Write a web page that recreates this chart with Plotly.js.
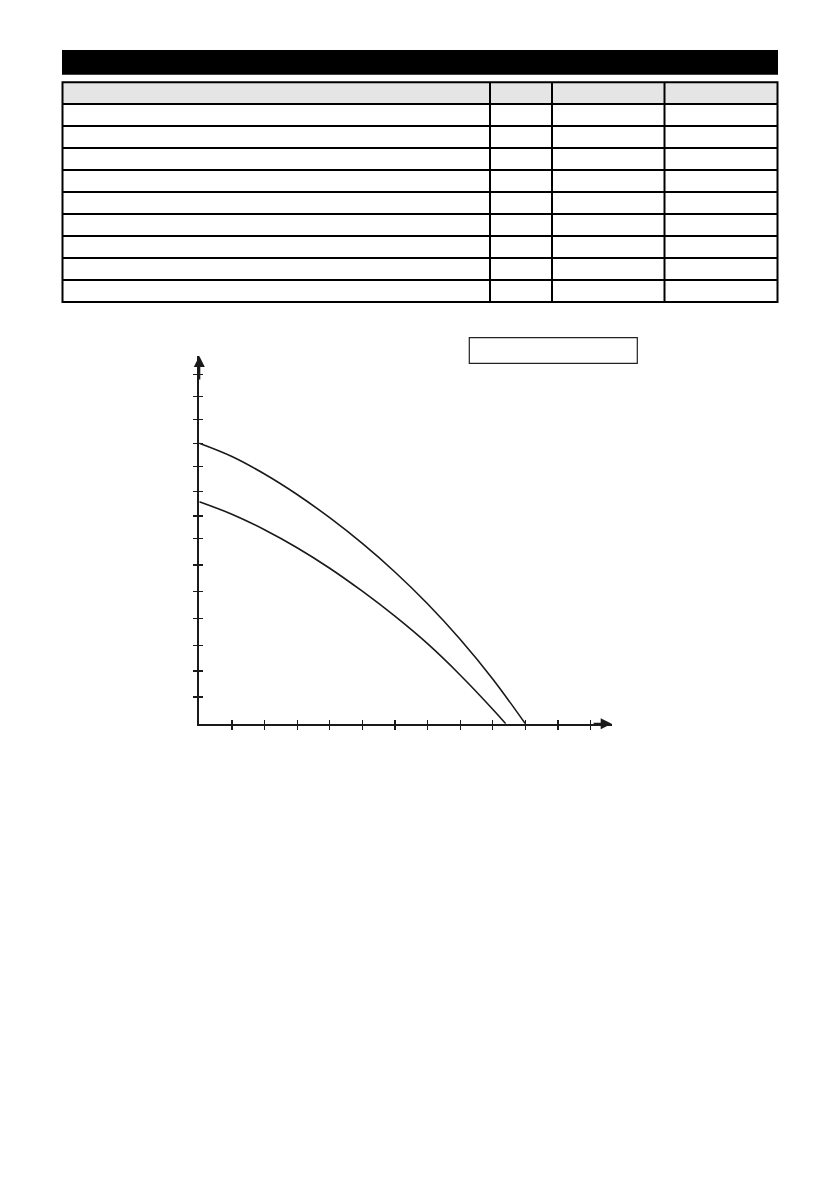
<!DOCTYPE html>
<html>
<head>
<meta charset="utf-8">
<script src="https://cdn.plot.ly/plotly-3.0.1.min.js"></script>
<style>
  html, body { margin: 0; padding: 0; background: #ffffff; }
  #plot { width: 840px; height: 1190px; }
</style>
</head>
<body>
<div id="plot"></div>
<script>
// Pump curves (x in tick steps, y in axis units)
//
const upperX = [0, 1, 2, 3, 4, 5, 6, 7, 8, 9, 10];
const upperY = [11.22, 10.69, 9.99, 9.17, 8.24, 7.21, 6.07, 4.80, 3.38, 1.79, 0];
const lowerX = [0, 1, 2, 3, 4, 5, 6, 7, 8, 9, 9.4];
const lowerY = [8.88, 8.38, 7.76, 7.04, 6.22, 5.30, 4.30, 3.20, 1.95, 0.58, 0];

// Axis ticks (the drawing's y ticks are not evenly spaced)
//
const xTickVals = [1, 2, 3, 4, 5, 6, 7, 8, 9, 10, 11, 12];
const yTickVals = [1.07, 2.11, 3.14, 4.21, 5.28, 6.35, 7.4, 8.31, 9.28, 10.3,
                   11.22, 12.16, 13.08, 13.98];

// Empty spec table: rows and column borders
//
const tableRows = 9;
const tableColumns = [490, 552, 664.5];

// page size in pixels
//
const W = 840;
const H = 1190;
const px = (x) => x / W;
const py = (y) => 1 - y / H;

// Table geometry
//
const tLeft = 62.5, tRight = 777.5, tTop = 82.3, headBottom = 104, rowH = 22;
const tBottom = headBottom + tableRows * rowH;

const shapes = [];

// black title bar
//
shapes.push({
  type: 'rect', xref: 'paper', yref: 'paper',
  x0: px(62), x1: px(778), y0: py(74.7), y1: py(50),
  fillcolor: '#000000', line: { width: 0 }
});

// grey header row
//
shapes.push({
  type: 'rect', xref: 'paper', yref: 'paper',
  x0: px(tLeft), x1: px(tRight), y0: py(headBottom), y1: py(tTop),
  fillcolor: '#e5e5e5', line: { width: 0 }
});

// horizontal rules
//
for (let i = 0; i < tableRows; i++) {
  const y = headBottom + i * rowH;
  shapes.push({
    type: 'line', xref: 'paper', yref: 'paper',
    x0: px(tLeft), x1: px(tRight), y0: py(y), y1: py(y),
    line: { color: '#000000', width: 2 }
  });
}

// column rules
//
tableColumns.forEach((x) => {
  shapes.push({
    type: 'line', xref: 'paper', yref: 'paper',
    x0: px(x), x1: px(x), y0: py(tTop), y1: py(tBottom),
    line: { color: '#000000', width: 2 }
  });
});

// table frame
//
shapes.push({
  type: 'rect', xref: 'paper', yref: 'paper',
  x0: px(tLeft), x1: px(tRight), y0: py(tBottom), y1: py(tTop),
  line: { color: '#000000', width: 2 }
});

// legend box (empty)
//
shapes.push({
  type: 'rect', xref: 'paper', yref: 'paper',
  x0: px(469.3), x1: px(637.3), y0: py(363.3), y1: py(337.7),
  line: { color: '#222222', width: 1.2 }
});

// Chart placement
//
const xMax = 12.65;
const yMax = 14.71;
const xDomain = [px(199.3), px(611.7)];
const yDomain = [py(723.7), py(356)];

const curveLine = { color: '#1a1a1a', width: 1.6, shape: 'spline', smoothing: 1 };

const data = [
  { x: upperX, y: upperY, mode: 'lines', type: 'scatter', line: curveLine,
    hoverinfo: 'none', showlegend: false },
  { x: lowerX, y: lowerY, mode: 'lines', type: 'scatter', line: curveLine,
    hoverinfo: 'none', showlegend: false },
  // dummy trace so the overlay axes are drawn
  { x: [0], y: [0], xaxis: 'x2', yaxis: 'y2', mode: 'markers',
    marker: { size: 0.1, color: 'rgba(0,0,0,0)' }, hoverinfo: 'none', showlegend: false }
];

const baseAxis = {
  showgrid: false,
  zeroline: false,
  showticklabels: false,
  tickcolor: '#1a1a1a',
  ticklen: 4,
  tickwidth: 1.2,
  tickmode: 'array',
  fixedrange: true
};

const layout = {
  width: W,
  height: H,
  margin: { t: 0, b: 0, l: 0, r: 0 },
  paper_bgcolor: '#ffffff',
  plot_bgcolor: 'rgba(0,0,0,0)',
  showlegend: false,
  xaxis: Object.assign({}, baseAxis, {
    domain: xDomain, range: [0, xMax], tickvals: xTickVals,
    ticks: 'outside', showline: true, linecolor: '#1a1a1a', linewidth: 2,
    anchor: 'y'
  }),
  yaxis: Object.assign({}, baseAxis, {
    domain: yDomain, range: [0, yMax], tickvals: yTickVals,
    ticks: 'outside', showline: true, linecolor: '#1a1a1a', linewidth: 2.6,
    anchor: 'x'
  }),
  xaxis2: Object.assign({}, baseAxis, {
    domain: xDomain, range: [0, xMax], tickvals: xTickVals,
    ticks: 'inside', showline: false, overlaying: 'x', anchor: 'y2'
  }),
  yaxis2: Object.assign({}, baseAxis, {
    domain: yDomain, range: [0, yMax], tickvals: yTickVals,
    ticks: 'inside', showline: false, overlaying: 'y', anchor: 'x2'
  }),
  shapes: shapes,
  annotations: [
    // arrow heads on the axes
    { x: 0, y: yMax, ax: 0, ay: yMax - 1, xref: 'x', yref: 'y', axref: 'x', ayref: 'y',
      text: '', showarrow: true, arrowhead: 2, arrowsize: 1.1, arrowwidth: 2,
      arrowcolor: '#1a1a1a' },
    { x: xMax, y: 0, ax: xMax - 0.6, ay: 0, xref: 'x', yref: 'y', axref: 'x', ayref: 'y',
      text: '', showarrow: true, arrowhead: 2, arrowsize: 1.1, arrowwidth: 2,
      arrowcolor: '#1a1a1a' }
  ]
};

const config = { displayModeBar: false, staticPlot: true, responsive: false };

Plotly.newPlot('plot', data, layout, config);
</script>
</body>
</html>
